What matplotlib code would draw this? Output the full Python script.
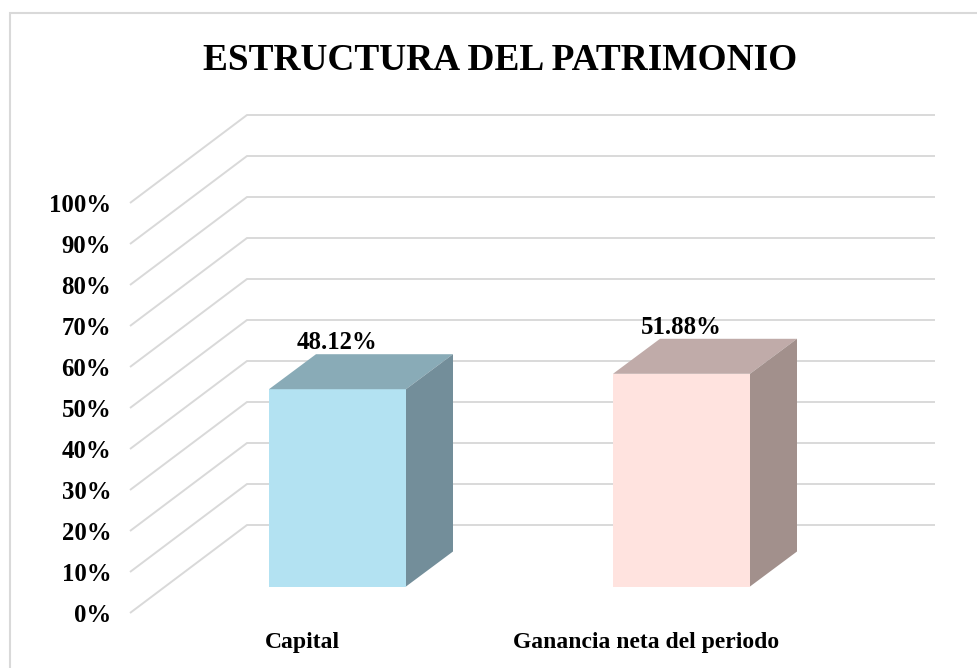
import matplotlib
matplotlib.use("Agg")
import matplotlib.pyplot as plt
from matplotlib.lines import Line2D

categorias = ["Capital", "Ganancia neta del periodo"]
valores = [48.12, 51.88]
etiquetas = ["48.12%", "51.88%"]
ticks = [0, 10, 20, 30, 40, 50, 60, 70, 80, 90, 100]
tick_labels = ["0%", "10%", "20%", "30%", "40%", "50%", "60%", "70%", "80%", "90%", "100%"]

col_frente = ["#B3E2F2", "#FFE3DF"]
col_arriba = ["#89ABB7", "#C0ABA9"]
col_lado = ["#738E9A", "#A2908C"]
gris = "#D9D9D9"

W, H = 977, 668
plt.rcParams["font.family"] = ["Liberation Serif", "DejaVu Serif"]
plt.rcParams["font.weight"] = "bold"

fig = plt.figure(figsize=(W / 100, H / 100), dpi=100)

# area del grafico en pixeles: plano frontal 0% en y=613, 100% en y=203
ax = fig.add_axes([130 / W, 1 - 613 / H, 805 / W, 410 / H])
ax.set_xlim(-0.5, -0.5 + 805 / 344)
ax.set_ylim(0, 100)
for s in ax.spines.values():
    s.set_visible(False)

px_x = 1 / 344   # unidades de categoria por pixel
px_y = 100 / 410  # unidades de % por pixel

# paredes: linea inclinada + linea horizontal del fondo
pared_x = 117 * px_x
pared_y = 88 * px_y
x0 = ax.get_xlim()[0]
x1 = ax.get_xlim()[1]
for t in ticks:
    ax.plot([x0, x0 + pared_x, x1], [t, t + pared_y, t + pared_y],
            color=gris, lw=1.4, clip_on=False, zorder=1,
            solid_joinstyle="miter", solid_capstyle="butt")

# barras 3D
ancho = 137 * px_x
corr_x = 35.5 * px_x
base = 26.5 * px_y
fondo_x = 47 * px_x
fondo_y = 35 * px_y
for i in range(len(valores)):
    xi = i + corr_x - ancho / 2
    xd = xi + ancho
    tope = base + valores[i]
    ax.bar(xi + ancho / 2, valores[i], width=ancho, bottom=base,
           color=col_frente[i], zorder=3, linewidth=0)
    ax.fill([xi, xd, xd + fondo_x, xi + fondo_x],
            [tope, tope, tope + fondo_y, tope + fondo_y],
            color=col_arriba[i], zorder=3, linewidth=0, clip_on=False)
    ax.fill([xd, xd + fondo_x, xd + fondo_x, xd],
            [base, base + fondo_y, tope + fondo_y, tope],
            color=col_lado[i], zorder=3, linewidth=0, clip_on=False)
    ax.annotate(etiquetas[i], (i + corr_x - 0.5 * px_x, tope), xytext=(0, 33.5),
                textcoords="offset points", ha="center", va="center",
                fontsize=17.8, fontweight="bold", color="black", zorder=5,
                annotation_clip=False)

ax.set_yticks(ticks)
ax.set_yticklabels(tick_labels, fontsize=17.8, fontweight="bold")
ax.set_xticks(range(len(categorias)))
ax.set_xticklabels(categorias, fontsize=17, fontweight="bold")
ax.tick_params(axis="y", length=0, pad=13.5)
ax.tick_params(axis="x", length=0, pad=14)

fig.text(500 / W, 1 - 60 / H, "ESTRUCTURA DEL PATRIMONIO", ha="center", va="center",
         fontsize=26.9, fontweight="bold", color="black")

# marco exterior
fig.add_artist(Line2D([10 / W, 10 / W, 1], [0, 1 - 13 / H, 1 - 13 / H],
                      color=gris, lw=1.5, solid_joinstyle="miter"))

fig.savefig("out.png", dpi=100)
